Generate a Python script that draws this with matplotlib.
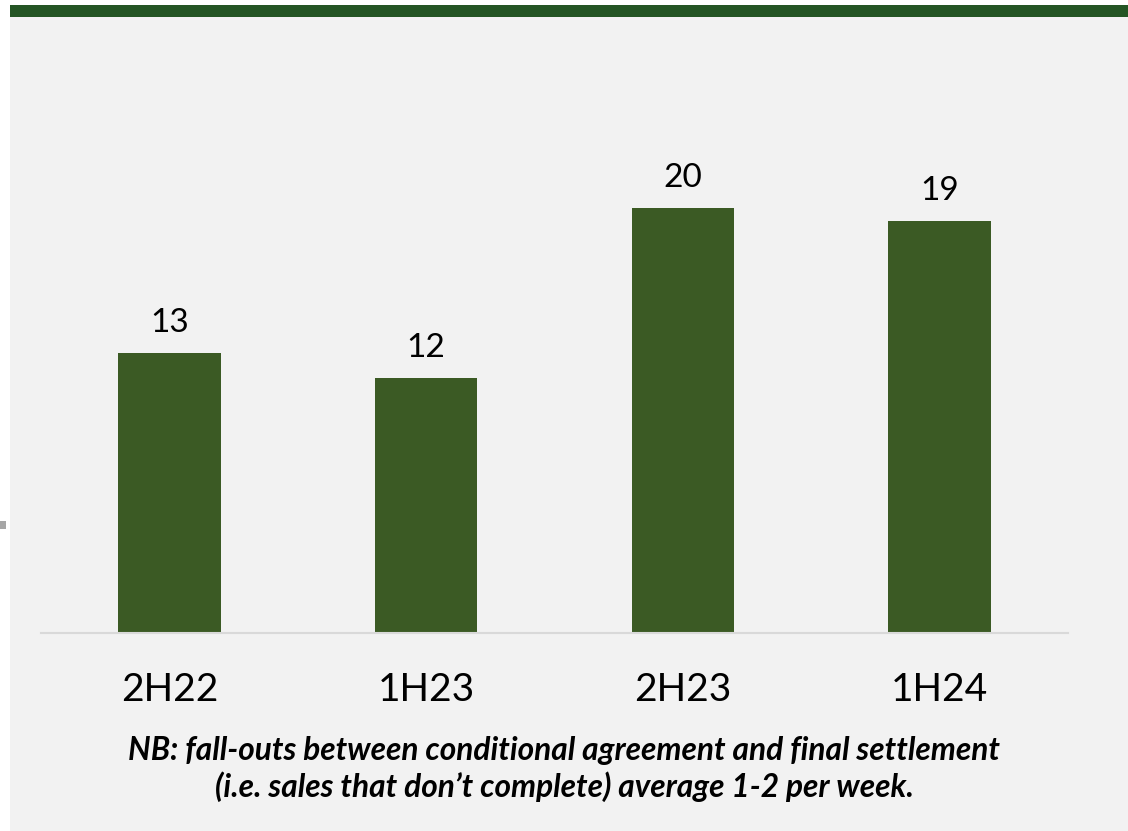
import matplotlib
matplotlib.use("Agg")
import matplotlib.pyplot as plt
from matplotlib.patches import Rectangle

categories = ["2H22", "1H23", "2H23", "1H24"]
values = [13.06, 11.9, 19.82, 19.22]
value_labels = ["13", "12", "20", "19"]
note_lines = ["NB: fall-outs between conditional agreement and final settlement",
              "(i.e. sales that don\u2019t complete) average 1-2 per week."]

W, H = 1128, 831
fig = plt.figure(figsize=(W / 100, H / 100), dpi=100, facecolor="white")
plt.rcParams['font.family'] = ['Lato', 'DejaVu Sans']

# background panel and top band
fig.patches.append(Rectangle((10 / W, 0), 1 - 10 / W, (H - 17) / H, transform=fig.transFigure,
                             facecolor="#f2f2f2", edgecolor="none", zorder=-2))
fig.patches.append(Rectangle((10 / W, (H - 17) / H), 1 - 10 / W, 12 / H, transform=fig.transFigure,
                             facecolor="#245524", edgecolor="none", zorder=-2))
fig.patches.append(Rectangle((0, (H - 529) / H), 6 / W, 8 / H, transform=fig.transFigure,
                             facecolor="#a6a6a6", edgecolor="none", zorder=-2))

left, right = 41 / W, 1068 / W
bottom = (H - 633) / H
top = (H - 97) / H
ax = fig.add_axes([left, bottom, right - left, top - bottom])
ax.set_facecolor("none")

x = list(range(len(categories)))
bars = ax.bar(x, values, width=0.4, color="#3b5a24", zorder=2)
ax.set_xlim(-0.5, 3.5)
ax.set_ylim(0, 25)

for xi, v, lab in zip(x, values, value_labels):
    ax.annotate(lab, xy=(xi, v), xytext=(0, 15.1), textcoords="offset points",
                ha="center", va="baseline", fontsize=24, color="black")

for s in ["top", "right", "left"]:
    ax.spines[s].set_visible(False)
ax.spines["bottom"].set_color("#d9d9d9")
ax.spines["bottom"].set_linewidth(1.5)
ax.set_yticks([])
ax.set_xticks(x, categories)
ax.tick_params(axis="x", length=0, pad=28, labelsize=28, labelcolor="black")

fig.text(564 / W, (H - 760) / H, note_lines[0], ha="center", va="baseline",
         fontsize=22.8, fontweight="bold", fontstyle="italic", color="black")
fig.text(564 / W, (H - 797) / H, note_lines[1], ha="center", va="baseline",
         fontsize=22.8, fontweight="bold", fontstyle="italic", color="black")

fig.savefig("out.png", dpi=100, facecolor="white")
